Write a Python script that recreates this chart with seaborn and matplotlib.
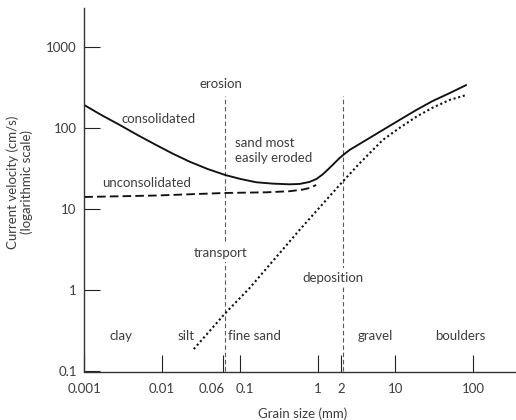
import matplotlib
matplotlib.use("Agg")
import matplotlib.pyplot as plt
import matplotlib.transforms as mtransforms
import seaborn as sns

# grain size (mm) and current velocity (cm/s)
cons_x = [0.001, 0.00166, 0.00284, 0.00483, 0.00841, 0.0136, 0.0226, 0.0385, 0.0649, 0.102,
          0.163, 0.264, 0.436, 0.586, 0.787, 0.969, 1.16, 1.34, 1.56, 1.92, 2.22, 2.58,
          4.02, 6.9, 11.3, 18.6, 30.1, 49.9, 81.7]
cons_y = [191, 144, 109, 81.8, 61.5, 48.4, 38.4, 31.2, 26.3, 23.5,
          21.4, 20.6, 20.2, 20.4, 21.6, 23.5, 26.7, 30.3, 34.9, 42.6, 47.8, 53.5,
          69.0, 94.2, 125, 166, 214, 268, 337]

uncons_x = [0.001, 0.00841, 0.0649, 0.219, 0.436, 0.646, 0.787, 0.961]
uncons_y = [14.1, 14.7, 15.8, 16.1, 16.6, 17.4, 18.2, 19.8]

depo_x = [0.0256, 0.0649, 0.133, 0.586, 1.92, 3.47, 6.9, 11.3, 18.6, 30.1, 49.9, 81.7]
depo_y = [0.189, 0.521, 1.06, 5.53, 19.8, 36.6, 71.0, 99.8, 137, 177, 221, 254]

boundaries = [0.065, 2.15]          # silt/sand and sand/gravel limits
boundary_top = 250

x_ticks = [0.001, 0.01, 0.06, 0.1, 1, 2, 10, 100]
x_labels = ["0.001", "0.01", "0.06", "0.1", "1", "2", "10", "100"]
y_ticks = [0.1, 1, 10, 100, 1000]
y_labels = ["0.1", "1", "10", "100", "1000"]

sizes = ["clay", "silt", "gravel", "boulders"]
size_x = [0.00299, 0.0206, 5.56, 68.5]

sns.set_style("ticks")
plt.rcParams["font.family"] = ["Lato", "DejaVu Sans"]
plt.rcParams["font.size"] = 9.5
grey = "#3d3d3d"

fig = plt.figure(figsize=(5.16, 4.2), dpi=100)
ax = fig.add_axes([84.3 / 516, 1 - 371.5 / 420, 431.7 / 516, 363.5 / 420])
ax.set_xscale("log")
ax.set_yscale("log")
ax.set_xlim(0.001, 10 ** (431.7 / 77.75 - 3))
ax.set_ylim(0.1, 10 ** (363.5 / 81.2 - 1))

ax.vlines(boundaries, 0.1, boundary_top, colors="#5a5a5a", linewidth=0.8,
          linestyles=(0, (4, 2.5)), zorder=1)

sns.lineplot(x=cons_x, y=cons_y, ax=ax, color="#111111", linewidth=1.35, sort=False)
sns.lineplot(x=uncons_x, y=uncons_y, ax=ax, color="#111111", linewidth=1.35,
             linestyle=(0, (4.6, 2.2)), sort=False)
sns.lineplot(x=depo_x, y=depo_y, ax=ax, color="#111111", linewidth=1.5,
             linestyle=(0, (1, 1.3)), sort=False)

box = dict(facecolor="white", edgecolor="none", pad=2.5)
ax.text(0.058, 307, "erosion", ha="center", va="baseline", color=grey)
ax.text(0.00303, 114, "consolidated", ha="left", va="baseline", color=grey)
ax.text(0.0856, 58.6, "sand most", ha="left", va="baseline", color=grey)
ax.text(0.0856, 38.0, "easily eroded", ha="left", va="baseline", color=grey)
ax.text(0.0017, 18.9, "unconsolidated", ha="left", va="baseline", color=grey)
ax.text(0.0565, 2.57, "transport", ha="center", va="baseline", color=grey, bbox=box)
ax.text(1.59, 1.27, "deposition", ha="center", va="baseline", color=grey, bbox=box)
for name, xv in zip(sizes, size_x):
    ax.text(xv, 0.241, name, ha="center", va="baseline", color=grey)
ax.text(0.0701, 0.241, "fine sand", ha="left", va="baseline", color=grey)

ax.set_xticks(x_ticks)
ax.set_xticklabels(x_labels)
ax.set_yticks(y_ticks)
ax.set_yticklabels(y_labels)
ax.minorticks_off()
ax.tick_params(axis="x", direction="in", length=12.2, width=0.8, color="#222222",
               pad=8.5, labelcolor=grey, labelsize=9.5)
ax.tick_params(axis="y", direction="in", length=11.3, width=0.8, color="#222222",
               pad=5.5, labelcolor=grey, labelsize=9.5)

# the 0.06 and 0.1 labels sit close together, nudge them apart as in the original
labels = ax.get_xticklabels()
for lab, dx in [(labels[2], -0.11), (labels[3], 0.055)]:
    lab.set_transform(lab.get_transform() + mtransforms.ScaledTranslation(dx, 0, fig.dpi_scale_trans))

ax.set_xlabel("Grain size (mm)", color=grey)
ax.xaxis.set_label_coords(0.5066, -0.0977)
ax.set_ylabel("Current velocity (cm/s)\n(logarithmic scale)", color=grey, linespacing=1.1)
ax.yaxis.label.set_va("center")
ax.yaxis.set_label_coords(-0.150, 0.521)

sns.despine(ax=ax)
for side in ["left", "bottom"]:
    ax.spines[side].set_color("#333333")
    ax.spines[side].set_linewidth(1.0)

fig.savefig("out.png", dpi=100)
